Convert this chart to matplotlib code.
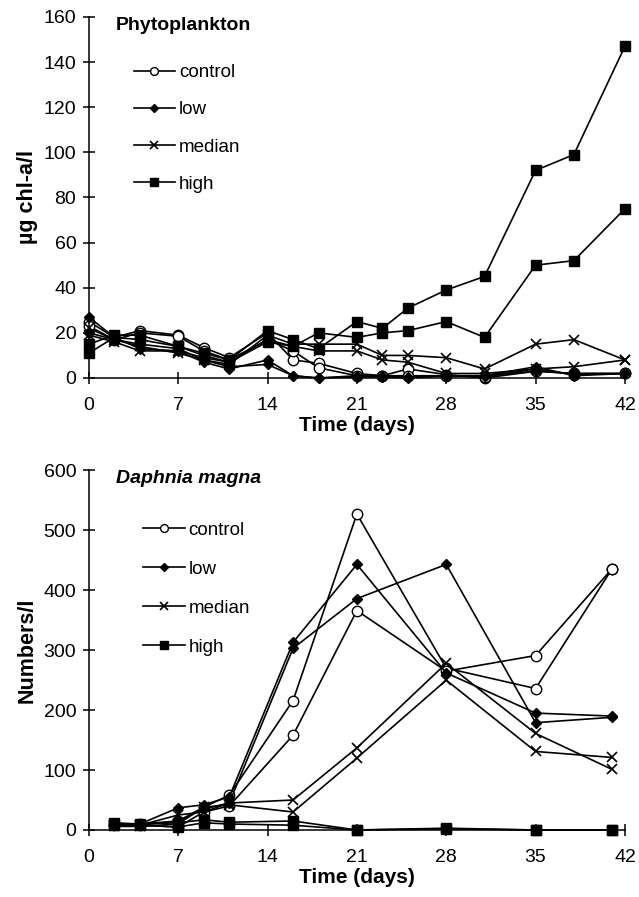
import matplotlib
matplotlib.use("Agg")
import matplotlib.pyplot as plt

plt.rcParams['font.family'] = ['Liberation Sans', 'DejaVu Sans']

# phytoplankton, two replicates per treatment
phyto_days = [0, 2, 4, 7, 9, 11, 14, 16, 18, 21, 23, 25, 28, 31, 35, 38, 42]
phyto_control = [[25, 18, 21, 19, 13.5, 9, 20, 8, 6.5, 2, 1, 4, 1.5, 0, 3, 2, 2],
                 [23, 17, 20, 18.5, 12, 8, 17, 12, 4.5, 1, 1, 1, 1, 0.5, 4, 1.5, 2]]
phyto_low = [[27, 18, 13, 12, 7, 4, 8, 1, 0, 0.5, 0.5, 0, 1, 1, 5, 1, 2],
             [20, 17, 15, 13, 8, 5, 6, 1, 0, 1, 1, 0.5, 1, 1, 3, 2, 2]]
phyto_median = [[22, 17, 14, 11, 8, 6, 19, 15, 15, 15, 10, 10, 9, 4, 15, 17, 8],
                [19, 16, 12, 12, 9, 7, 17, 14, 12, 12, 8, 7, 2, 2, 4, 5, 8]]
phyto_high = [[15, 19, 19, 14, 11, 8, 21, 17, 13, 25, 22, 31, 39, 45, 92, 99, 147],
              [11, 18, 17, 14, 10, 7, 16, 14, 20, 18, 20, 21, 25, 18, 50, 52, 75]]

# Daphnia magna numbers
daph_days = [2, 4, 7, 9, 11, 16, 21, 28, 35, 41]
daph_control = [[10, 10, 15, 38, 58, 216, 527, 270, 236, 436],
                [8, 8, 5, 30, 40, 158, 366, 265, 291, 436]]
daph_low = [[10, 10, 37, 42, 55, 313, 443, 262, 195, 190],
            [8, 8, 15, 35, 45, 303, 386, 443, 179, 188]]
daph_median = [[8, 8, 25, 30, 45, 50, 137, 278, 161, 101],
               [6, 6, 10, 38, 42, 30, 120, 250, 131, 121]]
daph_high = [[12, 10, 12, 17, 13, 15, 0, 2, 0, 0],
             [8, 8, 5, 12, 10, 8, 0, 3, 0, 0]]

treatments = ['control', 'low', 'median', 'high']
styles = {
    'control': dict(marker='o', markerfacecolor='white', markersize=7.5),
    'low': dict(marker='D', markerfacecolor='black', markersize=5.5),
    'median': dict(marker='x', markerfacecolor='black', markersize=7, markeredgewidth=1.2),
    'high': dict(marker='s', markerfacecolor='black', markersize=7.5),
}


def draw_panel(ax, days, series, ymax, ystep, ylabel, title, title_style,
               leg_anchor, leg_spacing):
    for name, reps in zip(treatments, series):
        for i, vals in enumerate(reps):
            ax.plot(days, vals, color='black', lw=1.2, markeredgecolor='black',
                    label=name if i == 0 else '_nolegend_', clip_on=False,
                    **styles[name])
    ax.set_xlim(0, 42)
    ax.set_ylim(0, ymax)
    ax.set_xticks(range(0, 43, 7))
    ax.set_yticks(range(0, ymax + 1, ystep))
    for s in ['top', 'right']:
        ax.spines[s].set_visible(False)
    ax.spines['left'].set_linewidth(1.1)
    ax.spines['bottom'].set_linewidth(1.1)
    ax.tick_params(direction='inout', length=8, width=1.1, labelsize=14)
    ax.tick_params(axis='x', pad=10)
    ax.tick_params(axis='y', pad=5)
    ax.set_xlabel('Time (days)', fontsize=15, fontweight='bold', labelpad=1)
    ax.set_ylabel(ylabel, fontsize=15.5, fontweight='bold', labelpad=4)
    ax.text(0.05, 1.0, title, transform=ax.transAxes, fontsize=14,
            fontweight='bold', fontstyle=title_style, va='top', ha='left')
    ax.legend(loc='upper left', bbox_to_anchor=leg_anchor, frameon=False,
              fontsize=13.5, handlelength=2.2, handletextpad=0.2,
              labelspacing=leg_spacing, markerscale=0.75, borderaxespad=0)


fig = plt.figure(figsize=(6.39, 8.97), dpi=100)
ax1 = fig.add_axes([0.139, 0.5786, 0.839, 0.4025])
ax2 = fig.add_axes([0.139, 0.0747, 0.839, 0.401])

draw_panel(ax1, phyto_days, [phyto_control, phyto_low, phyto_median, phyto_high],
           160, 20, 'µg chl-a/l', 'Phytoplankton', 'normal', (0.07, 0.89), 1.07)
draw_panel(ax2, daph_days, [daph_control, daph_low, daph_median, daph_high],
           600, 100, 'Numbers/l', 'Daphnia magna', 'italic', (0.088, 0.878), 1.17)

fig.savefig('out.png', dpi=100)
